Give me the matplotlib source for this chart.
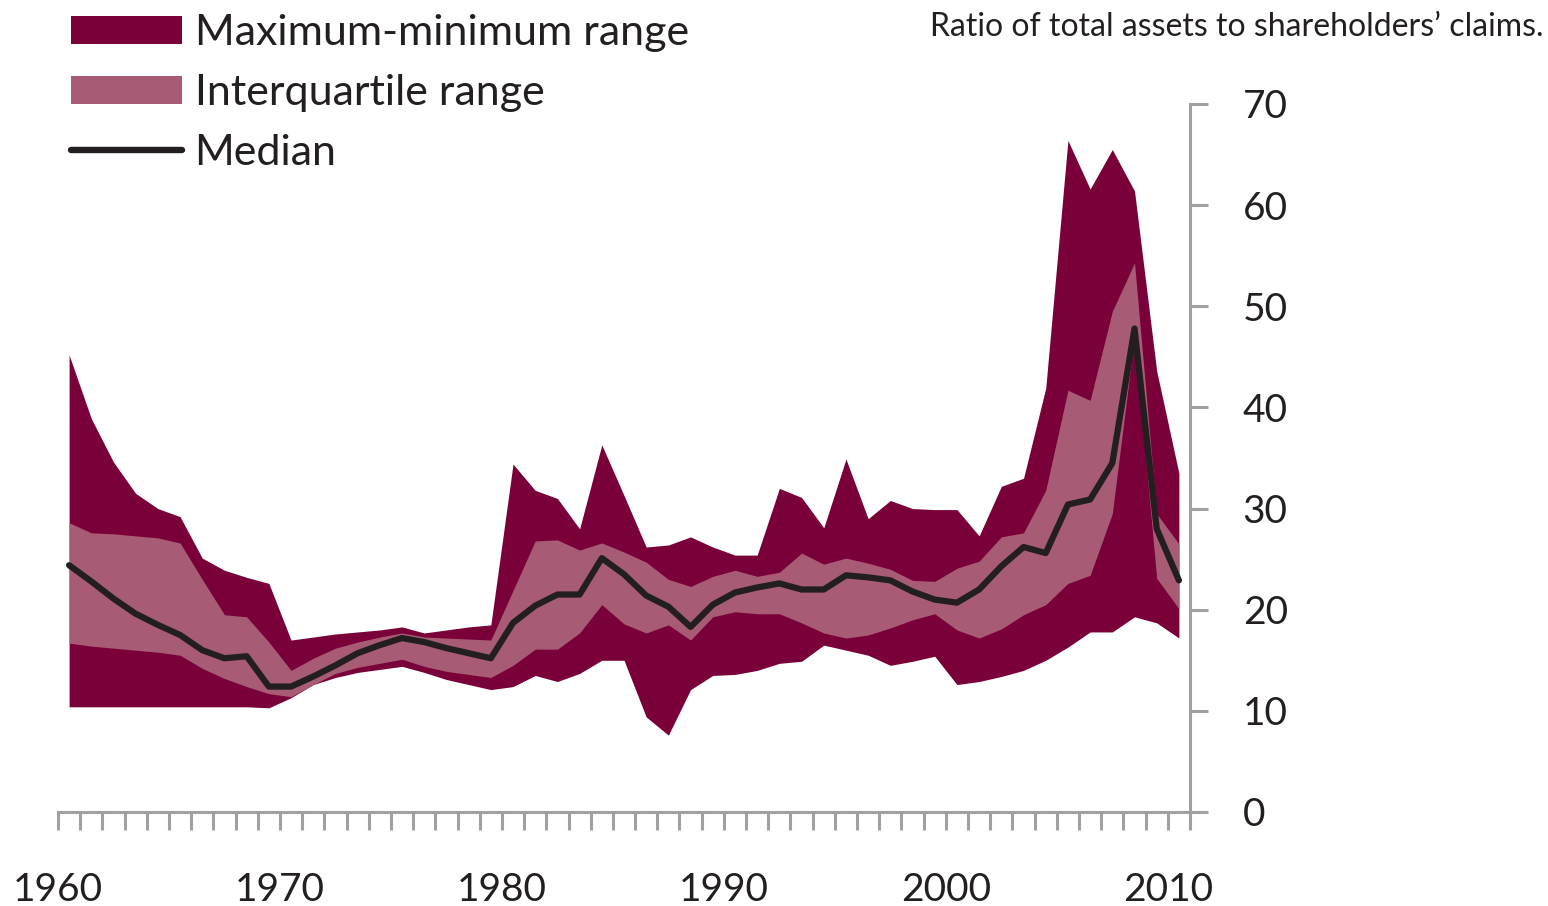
import numpy as np
import matplotlib.pyplot as plt
from matplotlib.patches import Patch
from matplotlib.lines import Line2D

plt.rcParams['font.family'] = ['Lato', 'DejaVu Sans']

# values, one per year 1960-2010
years = np.arange(1960, 2011)
max_v = [45.2, 38.9, 34.6, 31.5, 30.0, 29.2, 25.1, 23.9, 23.2, 22.6,
         17.0, 17.3, 17.6, 17.8, 18.0, 18.3, 17.7, 18.0, 18.3, 18.5,
         34.4, 31.8, 31.0, 28.0, 36.3, 31.3, 26.2, 26.4, 27.2, 26.2,
         25.4, 25.4, 32.0, 31.1, 28.1, 34.9, 29.0, 30.8, 30.0, 29.9,
         29.9, 27.3, 32.2, 33.0, 41.9, 66.4, 61.6, 65.5, 61.4, 43.6,
         33.5]
q3 = [28.6, 27.6, 27.5, 27.3, 27.1, 26.6, 23.0, 19.5, 19.3, 16.8,
      14.0, 15.2, 16.2, 16.8, 17.3, 17.7, 17.3, 17.2, 17.1, 17.0,
      21.9, 26.8, 26.9, 25.9, 26.6, 25.7, 24.7, 23.0, 22.3, 23.3,
      23.9, 23.3, 23.7, 25.6, 24.5, 25.1, 24.6, 24.0, 22.9, 22.8,
      24.1, 24.8, 27.2, 27.6, 31.8, 41.7, 40.7, 49.5, 54.3, 29.5,
      26.5]
median = [24.4, 22.8, 21.1, 19.6, 18.5, 17.5, 16.0, 15.2, 15.4, 12.4,
          12.4, 13.4, 14.5, 15.7, 16.5, 17.2, 16.8, 16.2, 15.7, 15.2,
          18.7, 20.4, 21.5, 21.5, 25.1, 23.5, 21.4, 20.3, 18.3, 20.5,
          21.7, 22.2, 22.6, 22.0, 22.0, 23.4, 23.2, 22.9, 21.8, 21.0,
          20.7, 22.0, 24.3, 26.2, 25.6, 30.4, 30.9, 34.5, 47.8, 28.0,
          22.9]
q1 = [16.7, 16.4, 16.2, 16.0, 15.8, 15.5, 14.2, 13.2, 12.4, 11.7,
      11.4, 12.6, 13.7, 14.3, 14.7, 15.1, 14.4, 13.9, 13.6, 13.3,
      14.5, 16.1, 16.1, 17.7, 20.5, 18.6, 17.7, 18.5, 17.0, 19.3,
      19.8, 19.6, 19.6, 18.7, 17.7, 17.2, 17.5, 18.2, 19.0, 19.6,
      18.0, 17.2, 18.1, 19.5, 20.5, 22.6, 23.4, 29.5, 47.0, 23.1,
      20.1]
min_v = [10.4, 10.4, 10.4, 10.4, 10.4, 10.4, 10.4, 10.4, 10.4, 10.3,
         11.3, 12.6, 13.3, 13.8, 14.1, 14.4, 13.8, 13.1, 12.6, 12.1,
         12.4, 13.5, 12.9, 13.7, 15.0, 15.0, 9.4, 7.6, 12.1, 13.5,
         13.6, 14.0, 14.7, 14.9, 16.5, 16.0, 15.5, 14.5, 14.9, 15.4,
         12.6, 12.9, 13.4, 14.0, 15.0, 16.3, 17.8, 17.8, 19.3, 18.7,
         17.2]

dark = "#7a0039"
pale = "#a85b74"
ink = "#231f20"
grey = "#a0a0a0"

fig = plt.figure(figsize=(15.48, 9.06), dpi=100)
ax = fig.add_axes([58/1548, 1 - 812/906, (1190 - 58)/1548, (812 - 104)/906])

x = years + 0.5  # categories sit between the yearly ticks
ax.fill_between(x, min_v, max_v, color=dark, lw=0)
ax.fill_between(x, q1, q3, color=pale, lw=0)
ax.plot(x, median, color=ink, lw=4.5, solid_joinstyle="round",
        solid_capstyle="round")

ax.set_xlim(1960, 2011)
ax.set_ylim(0, 70)

for s in ["left", "top"]:
    ax.spines[s].set_visible(False)
for s in ["right", "bottom"]:
    ax.spines[s].set_color(grey)
    ax.spines[s].set_linewidth(2.2)

ax.yaxis.tick_right()
ax.set_yticks(range(0, 71, 10))
ax.tick_params(axis="y", length=13, width=2.2, color=grey, labelsize=28,
               pad=25, labelcolor=ink)

tick_years = list(range(1960, 2012))
ax.set_xticks(tick_years)
ax.set_xticklabels([str(y) if y % 10 == 0 else "" for y in tick_years])
ax.tick_params(axis="x", length=13, width=2.2, color=grey, labelsize=28,
               pad=30, labelcolor=ink)

handles = [Patch(facecolor=dark, edgecolor="none"),
           Patch(facecolor=pale, edgecolor="none"),
           Line2D([], [], color=ink, lw=4.6, solid_capstyle="round")]
labels = ["Maximum-minimum range", "Interquartile range", "Median"]
ax.legend(handles, labels, loc="upper left", bbox_to_anchor=(65/1548, 1 - 8/906),
          bbox_transform=fig.transFigure, frameon=False, fontsize=31,
          handlelength=2.56, handleheight=0.63, handletextpad=0.3,
          labelspacing=0.5, borderaxespad=0, borderpad=0.15,
          labelcolor=ink)

fig.text(1543/1548, 1 - 27/906, "Ratio of total assets to shareholders\u2019 claims.",
         ha="right", va="center", fontsize=23, color=ink)

fig.savefig("out.png", dpi=100)
